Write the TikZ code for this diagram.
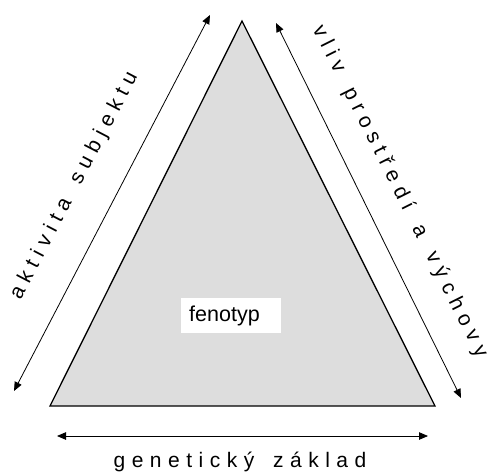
\documentclass[tikz,border=0pt]{standalone}
\usepackage{fontspec}
\setmainfont{Liberation Sans}
\usetikzlibrary{arrows.meta}

% gap between letters of the letter-spaced labels
\newlength\lsgap
\setlength\lsgap{6.5pt}
\newcommand\ls{\hspace{\lsgap}}
\newcommand\ws{\hspace{\lsgap}\ \hspace{\lsgap}}

\definecolor{trianglefill}{RGB}{221,221,221}

\tikzset{
  sidearrow/.style={line width=0.8pt, {Triangle[length=9pt,width=7.5pt]}-{Triangle[length=9pt,width=7.5pt]}},
  spacedlabel/.style={inner sep=0pt, font=\fontsize{21}{23}\selectfont, text height=0.75em, text depth=0.25em},
  triangleedge/.style={draw=black, line width=1.3pt, fill=trianglefill, line join=miter},
  phenobox/.style={fill=white, inner xsep=8pt, inner ysep=0pt, text width=84pt, align=left,
    minimum height=35pt, anchor=north west, font=\fontsize{21.5}{23}\selectfont}
}

\begin{document}
\begin{tikzpicture}[x=1pt, y=-1pt]
  \useasboundingbox (0,0) rectangle (487,472);

  % the triangle
  \coordinate (apex) at (242,21);
  \coordinate (baseL) at (50,406);
  \coordinate (baseR) at (435,406);
  \draw[triangleedge] (apex) -- (baseL) -- (baseR) -- cycle;

  % arrows along the three sides
  \coordinate (leftLow) at (14,391);
  \coordinate (leftHigh) at (210,15);
  \coordinate (rightHigh) at (276,23);
  \coordinate (rightLow) at (461,398);
  \coordinate (bottomL) at (57,436);
  \coordinate (bottomR) at (428,436);
  \draw[sidearrow] (leftLow) -- (leftHigh);
  \draw[sidearrow] (rightHigh) -- (rightLow);
  \draw[sidearrow] (bottomL) -- (bottomR);

  % side labels
  \node[spacedlabel, rotate=62.5] (activity) at (77,187)
    {a\ls k\ls t\ls i\ls v\ls i\ls t\ls a\ws s\ls u\ls b\ls j\ls e\ls k\ls t\ls u};
  \node[spacedlabel, rotate=-63.4] (environment) at (397,193)
    {v\ls l\ls i\ls v\ws p\ls r\ls o\ls s\ls t\ls ř\ls e\ls d\ls í\ws a\ws v\ls ý\ls c\ls h\ls o\ls v\ls y};
  \node[spacedlabel, anchor=base] (genetic) at (240,467)
    {g\ls e\ls n\ls e\ls t\ls i\ls c\ls k\ls ý\ws z\ls á\ls k\ls l\ls a\ls d};

  % phenotype box
  \node[phenobox] (phenotype) at (181,298) {fenotyp};
\end{tikzpicture}
\end{document}
